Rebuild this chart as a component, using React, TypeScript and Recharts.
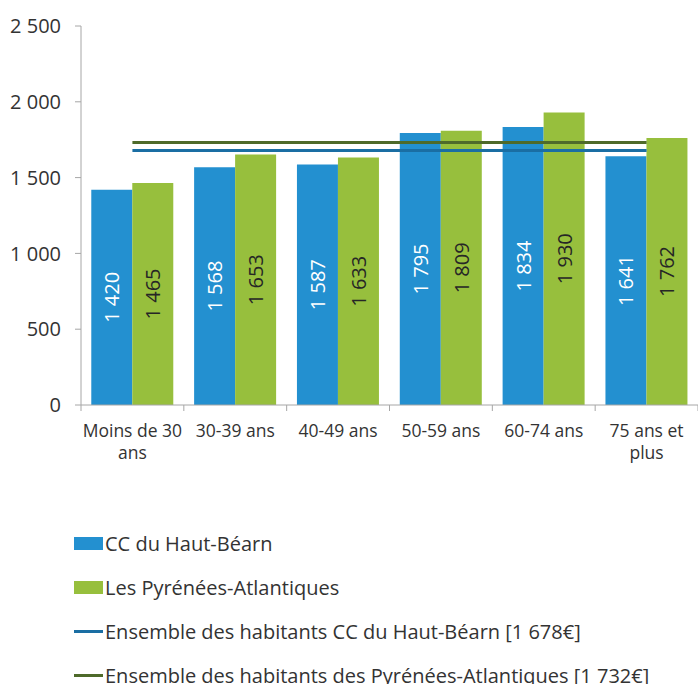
import { ComposedChart, Bar, Line, XAxis, YAxis, Legend, LabelList } from "recharts";

const categories = ["Moins de 30 ans", "30-39 ans", "40-49 ans", "50-59 ans", "60-74 ans", "75 ans et plus"];
const hautBearn = [1420, 1568, 1587, 1795, 1834, 1641];
const pyrenees = [1465, 1653, 1633, 1809, 1930, 1762];
const avgHautBearn = 1678;
const avgPyrenees = 1732;
const yTicks = [0, 500, 1000, 1500, 2000, 2500];

const seriesNames = {
  haut: "CC du Haut-Béarn",
  pyr: "Les Pyrénées-Atlantiques",
  avgHaut: "Ensemble des habitants CC du Haut-Béarn [1 678€]",
  avgPyr: "Ensemble des habitants des Pyrénées-Atlantiques [1 732€]",
};
const legendOrder = [seriesNames.haut, seriesNames.pyr, seriesNames.avgHaut, seriesNames.avgPyr];

const FONT = "'Open Sans', sans-serif";
const TEXT = "#333333";
const AXIS = "#a6a6a6";

const fmt = (n: number) => String(n).replace(/\B(?=(\d{3})+(?!\d))/g, " ");

const data = categories.map((name, i) => ({
  name,
  haut: hautBearn[i],
  pyr: pyrenees[i],
  avgHaut: avgHautBearn,
  avgPyr: avgPyrenees,
}));

// greedy word wrap, ~11 characters per line
const wrap = (s: string, max = 11) => {
  const lines: string[] = [];
  let cur = "";
  s.split(" ").forEach((w) => {
    const next = cur ? cur + " " + w : w;
    if (next.length > max && cur) {
      lines.push(cur);
      cur = w;
    } else {
      cur = next;
    }
  });
  if (cur) lines.push(cur);
  return lines;
};

// label + tick marks on the category boundaries (Excel style)
const CategoryTick = (props: any) => {
  const { x, y, payload, index } = props;
  const half = payload.offset || 0;
  const axisY = 405;
  return (
    <g>
      <line x1={x - half} x2={x - half} y1={axisY} y2={axisY + 6} stroke={AXIS} />
      {index === categories.length - 1 && (
        <line x1={x + half} x2={x + half} y1={axisY} y2={axisY + 6} stroke={AXIS} />
      )}
      <text x={x} y={y} textAnchor="middle" fontSize={17.5} fontFamily={FONT} fill={TEXT}>
        {wrap(String(payload.value)).map((line, i) => (
          <tspan key={i} x={x} dy={i === 0 ? 12.5 : 22.5}>
            {line}
          </tspan>
        ))}
      </text>
    </g>
  );
};

const barLabel = (color: string) => (props: any) => {
  const { x, y, width, height, value } = props;
  const cx = x + width / 2;
  const cy = y + height / 2;
  return (
    <text
      x={cx}
      y={cy}
      transform={`rotate(-90, ${cx}, ${cy})`}
      textAnchor="middle"
      dominantBaseline="central"
      fontSize={20}
      fontFamily={FONT}
      fill={color}
    >
      {fmt(value)}
    </text>
  );
};

const LegendContent = (props: any) => {
  const payload = [...(props.payload || [])].sort(
    (a: any, b: any) => legendOrder.indexOf(a.value) - legendOrder.indexOf(b.value)
  );
  return (
    <div style={{ height: 220, paddingTop: 57, boxSizing: "border-box", paddingLeft: 74, fontFamily: FONT }}>
      {payload.map((item: any) => (
        <div key={item.value} style={{ height: 44, display: "flex", alignItems: "center" }}>
          {item.type === "line" ? (
            <div style={{ width: 29, height: 3, background: item.color, marginRight: 2 }} />
          ) : (
            <div style={{ width: 29, height: 13, background: item.color, marginRight: 2 }} />
          )}
          <span style={{ fontSize: 20, color: TEXT, whiteSpace: "nowrap" }}>{item.value}</span>
        </div>
      ))}
    </div>
  );
};

export default function App() {
  return (
    <div style={{ position: "absolute", left: 0, top: 0 }}>
      <ComposedChart
        width={698}
        height={684}
        data={data}
        margin={{ top: 26, right: 0, bottom: 0, left: 0 }}
        barCategoryGap="10%"
        barGap={0}
      >
        <XAxis
          dataKey="name"
          height={59}
          axisLine={{ stroke: AXIS }}
          tickLine={false}
          tickSize={6}
          tickMargin={13}
          interval={0}
          tick={<CategoryTick />}
        />
        <YAxis
          width={81}
          domain={[0, 2500]}
          ticks={yTicks}
          tickFormatter={fmt}
          tickSize={6}
          tickMargin={14}
          axisLine={{ stroke: AXIS }}
          tickLine={{ stroke: AXIS }}
          tick={{ fill: TEXT, fontSize: 20, fontFamily: FONT }}
        />
        <Legend verticalAlign="bottom" layout="horizontal" wrapperStyle={{ left: 0, width: 698 }} content={<LegendContent />} />
        <Bar dataKey="haut" name={seriesNames.haut} fill="#2390d0" isAnimationActive={false}>
          <LabelList dataKey="haut" content={barLabel("#ffffff")} />
        </Bar>
        <Bar dataKey="pyr" name={seriesNames.pyr} fill="#97bf3d" isAnimationActive={false}>
          <LabelList dataKey="pyr" content={barLabel("#262626")} />
        </Bar>
        <Line
          dataKey="avgHaut"
          name={seriesNames.avgHaut}
          stroke="#1a6ea3"
          strokeWidth={3}
          dot={false}
          legendType="line"
          isAnimationActive={false}
        />
        <Line
          dataKey="avgPyr"
          name={seriesNames.avgPyr}
          stroke="#4e6a2a"
          strokeWidth={3}
          dot={false}
          legendType="line"
          isAnimationActive={false}
        />
      </ComposedChart>
    </div>
  );
}
